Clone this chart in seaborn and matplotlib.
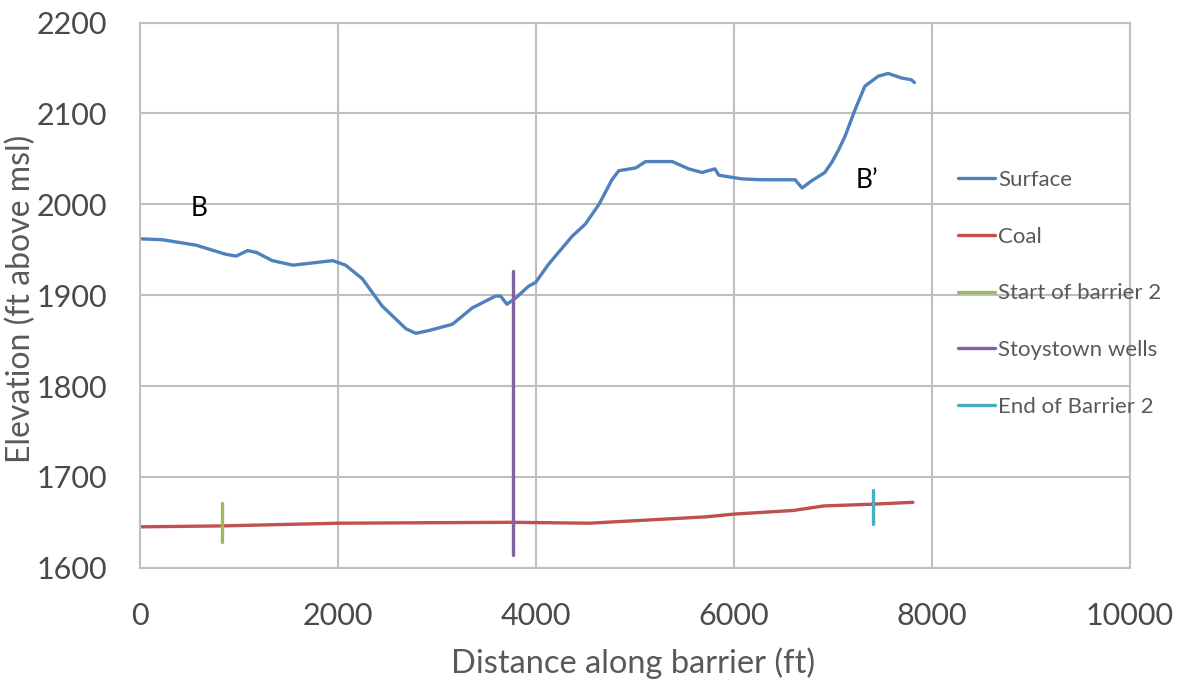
import pandas as pd
import numpy as np
import matplotlib.pyplot as plt
import seaborn as sns

# surface profile
surface_x = [0, 230, 570, 870, 975, 1090, 1180, 1340, 1550, 1710, 1950, 2080, 2250, 2450,
             2690, 2790, 2920, 3160, 3360, 3595, 3645, 3710, 3800, 3930, 4000, 4130, 4370,
             4500, 4640, 4770, 4840, 5010, 5110, 5380, 5545, 5680, 5810, 5850, 6080, 6280,
             6620, 6690, 6790, 6920, 6990, 7060, 7125, 7225, 7325, 7460, 7560, 7695, 7795, 7825]
surface_y = [1962, 1961, 1955, 1945, 1943, 1949, 1947, 1938, 1933, 1935, 1938, 1933, 1918, 1888,
             1863, 1858, 1861, 1868, 1886, 1899, 1899, 1890, 1897, 1910, 1914, 1934, 1965,
             1978, 2000, 2027, 2037, 2040, 2047, 2047, 2039, 2035, 2039, 2032, 2028, 2027,
             2027, 2018, 2026, 2035, 2046, 2060, 2075, 2104, 2130, 2141, 2144, 2139, 2137, 2134]

coal_x = [0, 825, 2010, 3760, 4540, 5050, 5720, 6000, 6600, 6910, 7420, 7810]
coal_y = [1645, 1646, 1649, 1650, 1649, 1652, 1656, 1659, 1663, 1668, 1670, 1672]

# vertical markers: name, x, y bottom, y top
marker_names = ["Start of barrier 2", "Stoystown wells", "End of Barrier 2"]
marker_x = [830, 3775, 7410]
marker_y0 = [1628, 1614, 1648]
marker_y1 = [1671, 1927, 1686]

colors = {"Surface": "#4F81BD", "Coal": "#C0504D", "Start of barrier 2": "#9BBB59",
          "Stoystown wells": "#8064A2", "End of Barrier 2": "#4BACC6"}

sns.set_style("whitegrid")
plt.rcParams['font.family'] = ['Lato', 'DejaVu Sans']

fig, ax = plt.subplots(figsize=(11.83, 6.84), dpi=100)
fig.subplots_adjust(left=0.118, right=0.955, top=0.967, bottom=0.170)

sns.lineplot(x=surface_x, y=surface_y, ax=ax, color=colors["Surface"], lw=2.4, label="Surface")
sns.lineplot(x=coal_x, y=coal_y, ax=ax, color=colors["Coal"], lw=2.4, label="Coal")
for name, mx, y0, y1 in zip(marker_names, marker_x, marker_y0, marker_y1):
    df = pd.DataFrame({"x": [mx, mx], "y": [y0, y1]})
    sns.lineplot(data=df, x="x", y="y", ax=ax, color=colors[name], lw=2.4, label=name,
                 estimator=None, sort=False)

ax.text(605, 1995, "B", fontsize=19, ha="center", va="center", color="black")
ax.text(7345, 2026, "B\u2019", fontsize=19, ha="center", va="center", color="black")

ax.set_xlim(0, 10000)
ax.set_ylim(1600, 2200)
ax.set_xticks(np.arange(0, 10001, 2000))
ax.set_yticks(np.arange(1600, 2201, 100))
ax.grid(True, color="#BFBFBF", lw=1.5)
for s in ax.spines.values():
    s.set_color("#BFBFBF")
    s.set_linewidth(1.5)
ax.tick_params(axis="both", labelsize=22, colors="#4a4a4a", length=0)
ax.tick_params(axis="x", pad=24.5)
ax.tick_params(axis="y", pad=23.5)
ax.set_xlabel("Distance along barrier (ft)", fontsize=23.5, color="#595959")
ax.set_ylabel("Elevation (ft above msl)", fontsize=23, color="#595959")
ax.xaxis.set_label_coords(0.4985, -0.1465)
ax.yaxis.set_label_coords(-0.1045, 0.493)

leg = ax.legend(loc="upper left", bbox_to_anchor=(958 / 1183, 1 - 170 / 684),
                bbox_transform=fig.transFigure, frameon=False, fontsize=16,
                labelspacing=1.65, handlelength=1.65, handletextpad=0.15,
                borderpad=0, borderaxespad=0)
for t in leg.get_texts():
    t.set_color("#595959")

plt.savefig("out.png", dpi=100)
